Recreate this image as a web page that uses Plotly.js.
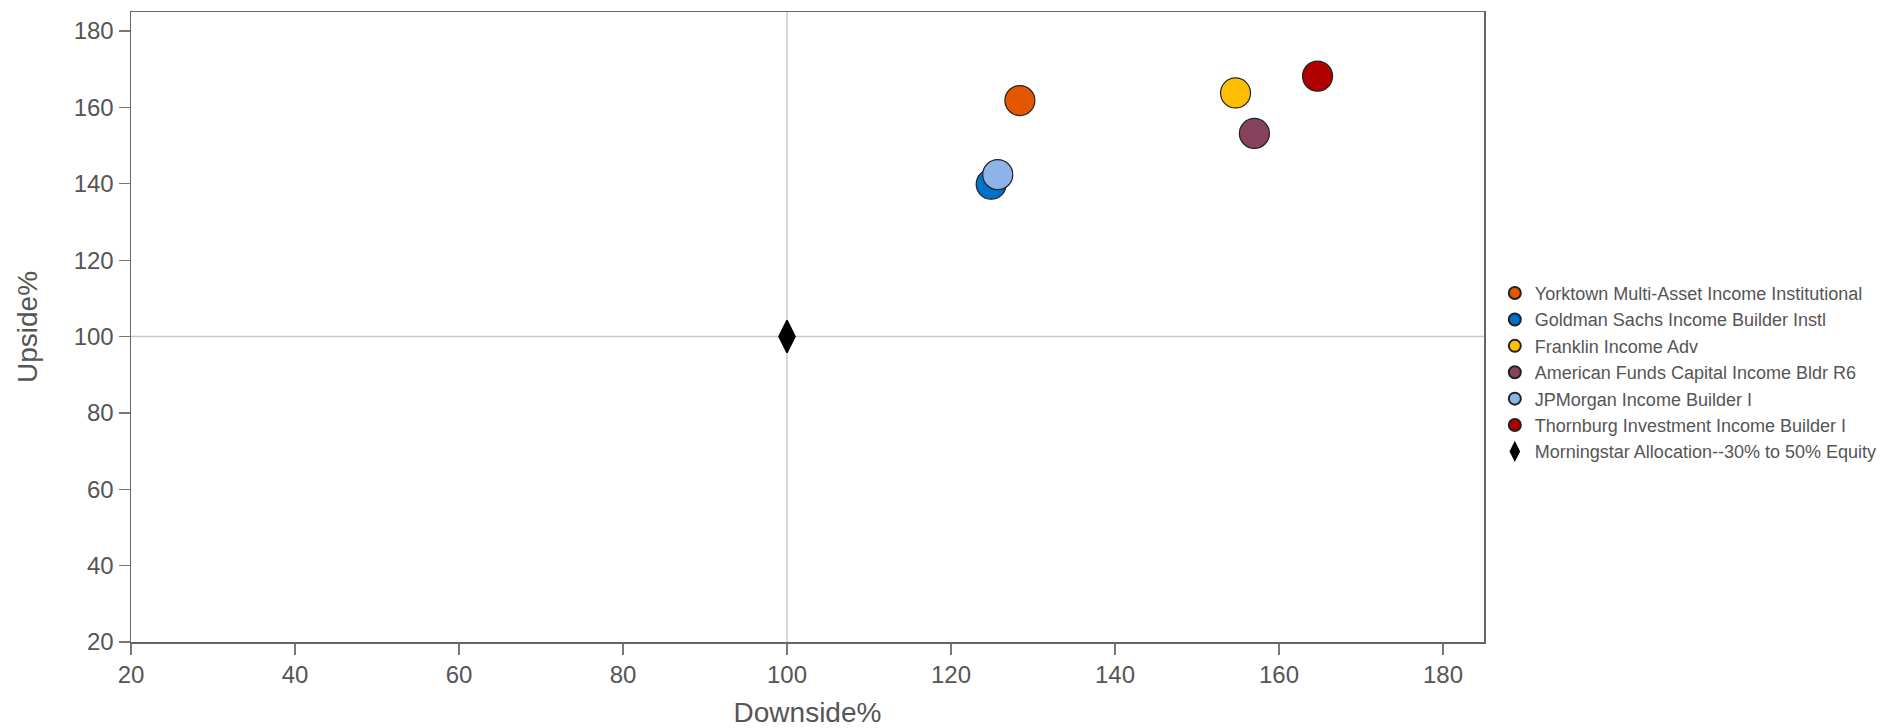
<!DOCTYPE html>
<html>
<head>
<meta charset="utf-8">
<script src="https://cdn.plot.ly/plotly-3.0.1.min.js"></script>
<style>
html,body{margin:0;padding:0;background:#fff;}
#chart{width:1887px;height:728px;}
</style>
</head>
<body>
<div id="chart"></div>
<script>
const fundNames = [
  "Yorktown Multi-Asset Income Institutional",
  "Goldman Sachs Income Builder Instl",
  "Franklin Income Adv",
  "American Funds Capital Income Bldr R6",
  "JPMorgan Income Builder I",
  "Thornburg Investment Income Builder I"
];
const fundDownside = [128.4, 124.9, 154.7, 157.0, 125.7, 164.7];
const fundUpside = [161.8, 139.9, 163.8, 153.2, 142.4, 168.2];
const fundColors = ["#E55600", "#0070C9", "#FFBE00", "#86435E", "#8DB4E8", "#B00000"];
const benchName = "Morningstar Allocation--30% to 50% Equity";
const benchDownside = [100];
const benchUpside = [100];
const tickVals = [20, 40, 60, 80, 100, 120, 140, 160, 180];

const traces = fundNames.map((n, i) => ({
  type: "scatter", mode: "markers", name: n,
  x: [fundDownside[i]], y: [fundUpside[i]],
  marker: {size: 30, color: fundColors[i], line: {color: "#222", width: 1.2}}
}));
traces.push({
  type: "scatter", mode: "markers", name: benchName,
  x: benchDownside, y: benchUpside,
  marker: {size: 23, symbol: "diamond-tall", color: "#000", line: {color: "#000", width: 1.5}}
});

const axisBase = {
  range: [20, 185], tickvals: tickVals, ticktext: tickVals.map(String),
  showline: true, mirror: true, linecolor: "#666", linewidth: 1.5,
  ticks: "outside", ticklen: 11, tickcolor: "#777", tickwidth: 1.2,
  showgrid: false, zeroline: false, automargin: false,
  tickfont: {size: 24, color: "#555"}
};

const layout = {
  width: 1887, height: 728,
  margin: {l: 131, r: 403, t: 12, b: 86, autoexpand: false},
  paper_bgcolor: "#fff", plot_bgcolor: "#fff",
  font: {family: "Liberation Sans, Arial, sans-serif", color: "#555"},
  showlegend: true,
  legend: {x: 1.008, xanchor: "left", y: 0.428, yanchor: "middle",
           font: {size: 18, color: "#555"}, itemsizing: "constant", tracegroupgap: 0},
  xaxis: Object.assign({}, axisBase, {title: {text: "Downside%", font: {size: 28, color: "#555"}, standoff: 33}}),
  yaxis: Object.assign({}, axisBase, {title: {text: "Upside%", font: {size: 28, color: "#555"}, standoff: 28}}),
  shapes: [
    {type: "line", xref: "x", yref: "paper", x0: 100, x1: 100, y0: 0, y1: 1, line: {color: "#c8c8c8", width: 1.5}, layer: "below"},
    {type: "line", xref: "paper", yref: "y", x0: 0, x1: 1, y0: 100, y1: 100, line: {color: "#c8c8c8", width: 1.5}, layer: "below"}
  ]
};

Plotly.newPlot("chart", traces, layout, {displayModeBar: false, staticPlot: true});
</script>
</body>
</html>
